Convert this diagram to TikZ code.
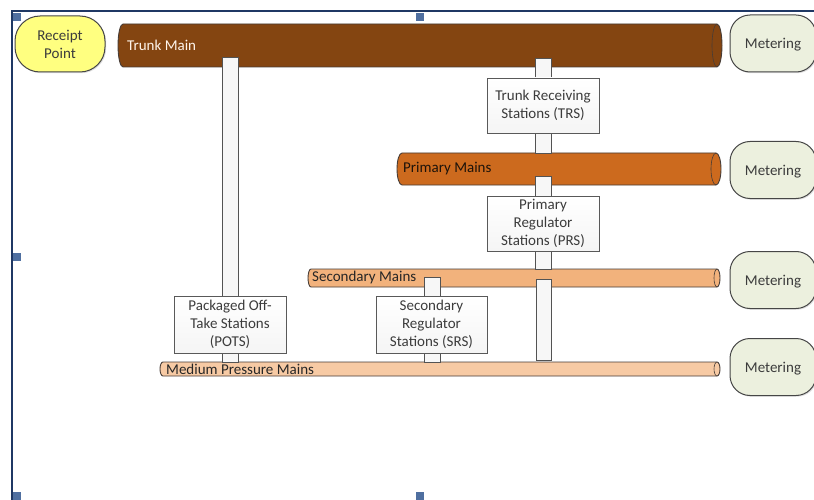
\documentclass[tikz,border=0pt]{standalone}
\usepackage{fontspec}
\setmainfont{Carlito}
\usetikzlibrary{shadows}
\definecolor{trunkc}{RGB}{132,69,17}
\definecolor{primc}{RGB}{204,106,30}
\definecolor{secc}{RGB}{242,178,124}
\definecolor{medc}{RGB}{247,202,164}
\definecolor{pipeedge}{RGB}{70,60,55}
\definecolor{meterc}{RGB}{236,240,222}
\definecolor{recc}{RGB}{255,255,128}
\definecolor{framec}{RGB}{31,56,100}
\definecolor{handc}{RGB}{79,111,160}
\definecolor{txt}{RGB}{60,60,60}
\newcommand\drawpipe[6]{%
  \pgfmathsetmacro\pry{(#4-#2)/2}%
  \filldraw[fill=#5, draw=pipeedge, line width=0.9pt] ({#1+#6},#2) -- ({#3-#6},#2)
    arc[start angle=-90,end angle=90,x radius=#6,y radius=\pry] -- ({#1+#6},#4)
    arc[start angle=90,end angle=270,x radius=#6,y radius=\pry] -- cycle;
  \draw[pipeedge, line width=0.6pt] ({#3-#6},#2) arc[start angle=-90,end angle=-270,x radius=#6,y radius=\pry];
}
\tikzset{
  txtfont/.style={font=\fontsize{15}{18}\selectfont},
  stub/.style={fill=gray!6, draw=gray!65!black, line width=0.8pt},
  stationbox/.style={txtfont, draw=gray!70!black, line width=0.9pt, top color=white, bottom color=gray!8,
     align=center, inner sep=0pt, text=txt, minimum width=112, minimum height=56,
     drop shadow={opacity=0.25, shadow xshift=1.2pt, shadow yshift=-1.2pt}},
  meterbox/.style={txtfont, draw=gray!55!black, line width=1pt, fill=meterc, rounded corners=20pt,
     minimum width=86, minimum height=57, inner sep=0pt, text=txt, text depth=0pt,
     drop shadow={opacity=0.25, shadow xshift=1.2pt, shadow yshift=-1.2pt}},
  recbox/.style={txtfont, draw=gray!55!black, line width=1pt, fill=recc, rounded corners=25pt,
     minimum width=90, minimum height=56, inner sep=0pt, text=txt, align=center,
     drop shadow={opacity=0.25, shadow xshift=1.2pt, shadow yshift=-1.2pt}},
  pipelabel/.style={txtfont, anchor=west, inner sep=0pt},
  handle/.style={fill=handc}
}
\begin{document}
\begin{tikzpicture}[x=1pt,y=-1pt]
\useasboundingbox (0,0) rectangle (814,500);
% frame
\draw[framec, line width=1.5pt] (12,500) -- (12,11) -- (816,11);
\fill[handle] (13,13) rectangle +(8,8);
\fill[handle] (416,13) rectangle +(8,8);
\fill[handle] (13,253) rectangle +(8,8);
\fill[handle] (13,492) rectangle +(8,9);
\fill[handle] (416,492) rectangle +(8,9);
% pipes
\drawpipe{118}{24}{722}{67}{trunkc}{5}
\drawpipe{397}{153}{721}{185}{primc}{5}
\drawpipe{308}{269}{720}{287}{secc}{3}
\drawpipe{160}{362}{720}{376}{medc}{3}
\node[pipelabel, text=white!92!orange] (trunk) at (127,45.5) {Trunk Main};
\node[pipelabel, text=black!85!brown] (primary) at (403,169) {Primary Mains};
\node[pipelabel, text=black!85] (secondary) at (312,277) {Secondary Mains};
\node[pipelabel, text=black!85] (medium) at (166,369) {Medium Pressure Mains};
% stubs
\draw[stub] (222,57) rectangle (238,362);
\draw[stub] (535,58) rectangle (551,153);
\draw[stub] (535,176) rectangle (551,269);
\draw[stub] (536,279) rectangle (551,360);
\draw[stub] (424,277) rectangle (440,362);
% stations
\node[stationbox, minimum height=55] (trs) at (543,105.5) {Trunk Receiving\\Stations (TRS)};
\node[stationbox, minimum height=55] (prs) at (543,223.5) {Primary\\Regulator\\Stations (PRS)};
\node[stationbox, minimum height=57] (pots) at (230,324.5) {Packaged Off-\\Take Stations\\(POTS)};
\node[stationbox, minimum width=111, minimum height=57] (srs) at (431.5,324.5) {Secondary\\Regulator\\Stations (SRS)};
% receipt and metering
\node[recbox] (receipt) at (60,44) {Receipt\\Point};
\node[meterbox] (m1) at (773,43.5) {Metering};
\node[meterbox] (m2) at (773,170) {Metering};
\node[meterbox] (m3) at (773,280) {Metering};
\node[meterbox] (m4) at (773,367) {Metering};
\end{tikzpicture}
\end{document}
